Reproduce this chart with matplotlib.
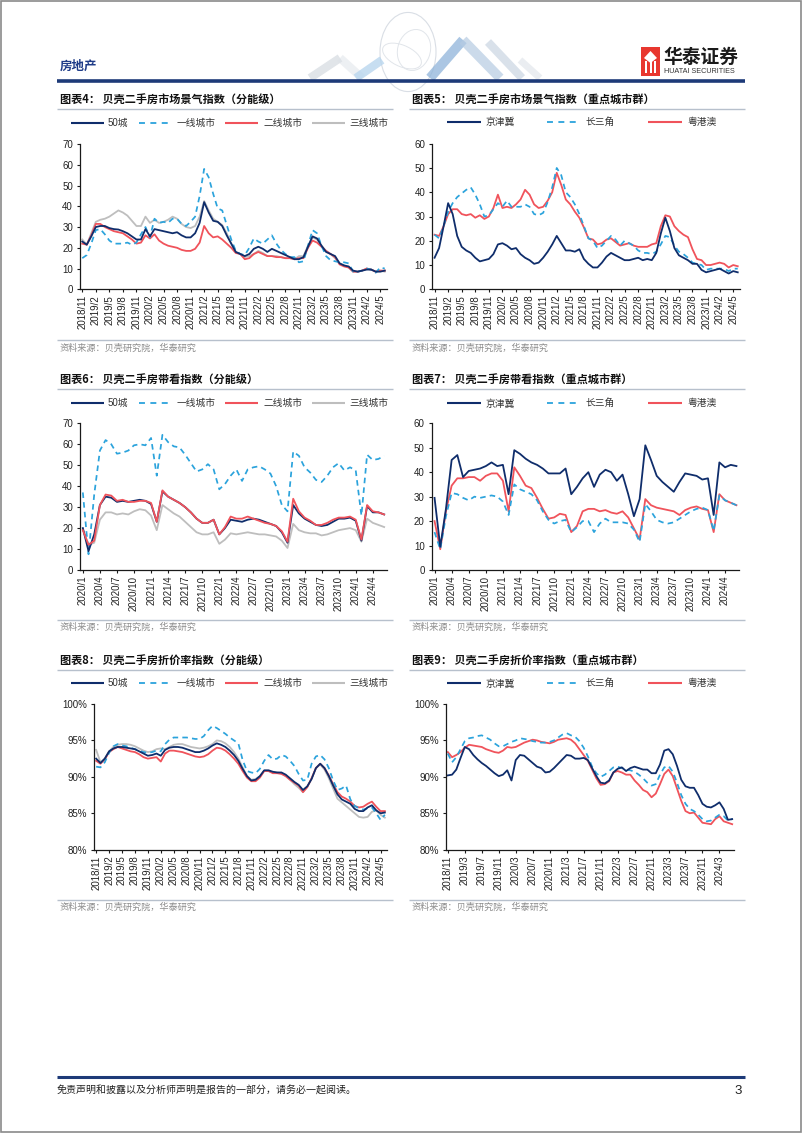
import matplotlib
matplotlib.use("Agg")
import matplotlib.pyplot as plt
from matplotlib.lines import Line2D
from matplotlib.patches import Rectangle, Polygon, Circle, Ellipse

# ---------------- data ----------------
def month_labels(y, m, n):
    out = []
    for _ in range(n):
        out.append(f"{y}/{m}")
        m += 1
        if m > 12:
            m = 1
            y += 1
    return out

months_a = month_labels(2018, 11, 68)   # 2018/11 - 2024/6
months_b = month_labels(2020, 1, 54)    # 2020/1 - 2024/6

tier_names = ["50城", "一线城市", "二线城市", "三线城市"]
region_names = ["京津冀", "长三角", "粤港澳"]

# 图表4 景气指数（分能级）
c4_50 = [23, 21.5, 25.5, 30, 30.5, 30.5, 29.5, 29, 28.8, 28, 27, 25.5, 24, 24, 29, 25.5, 29, 28.5,
         28, 27.5, 27, 27.5, 26, 25, 25, 27, 32, 42, 37, 33, 32.5, 30.5, 26, 22, 18, 17, 16, 17,
         19.5, 20.5, 19.5, 18, 19.5, 18.5, 17.5, 16.5, 15.5, 14.5, 14.5, 15.5, 20.5, 25.5, 24.5,
         21, 18, 17, 16, 12.5, 11.5, 11, 9, 8.5, 9, 9.5, 9.5, 8.5, 8.5, 9]
c4_1 = [15, 16.5, 22, 28.5, 29, 26.5, 23.5, 22, 22, 22, 22.5, 21.5, 22.5, 26.5, 30, 25, 34, 32,
        32.5, 32, 34, 34, 31.5, 30.5, 32.5, 35, 45, 58, 54, 46, 39, 38, 31, 24, 18.5, 17, 16.5,
        20, 24.5, 23, 22, 24, 26, 22, 19, 17, 15.5, 15.5, 13, 13.5, 21, 28.5, 27, 21, 16, 14,
        13.5, 13, 13, 12.5, 8.5, 8.5, 9, 10, 9.5, 8, 10.5, 10]
c4_2 = [22, 21.5, 26, 31.5, 31.5, 30, 29, 28, 27.5, 27, 25.5, 24, 22, 22.5, 26, 24.5, 26.5, 23.5,
        22, 21, 20.5, 20, 19, 18.5, 18.5, 19.5, 22.5, 30.5, 27, 25, 25.5, 24, 22, 20, 17.5, 17,
        14.5, 15, 17, 18, 17, 16, 16, 15.5, 15.5, 15, 15, 14.5, 15, 15, 20, 23.5, 22.5, 20.5,
        18.5, 17, 15.5, 12, 11, 10.5, 8.5, 8.5, 9, 10, 9.5, 8.5, 9, 9]
c4_3 = [24, 21.5, 27, 32.5, 33.5, 34, 35, 36.5, 38, 37, 35.5, 33, 30.5, 30.5, 35, 32, 33.5, 32,
        32.5, 33.5, 35, 34, 31.5, 30, 29.5, 30.5, 35, 42.5, 38, 34, 32.5, 31, 27, 22, 18, 17,
        15.5, 16, 17, 18.5, 17.5, 16, 16, 16, 15.5, 15, 15, 14.5, 16, 16, 21, 25, 24, 21, 18.5,
        17, 15, 12.5, 11.5, 10.5, 8.5, 8.5, 9, 10, 9.5, 8.5, 9, 8.5]

# 图表5 景气指数（重点城市群）
c5_jjj = [13, 17, 26, 35.5, 31, 22, 17.5, 16, 15, 13, 11.5, 12, 12.5, 14.5, 18.5, 19, 18, 16.5,
          17, 14.5, 13, 12, 10.5, 11, 13, 15.5, 18.5, 22, 19, 16, 16, 15.5, 16.5, 12.5, 10.5,
          9, 9, 11, 13.5, 15, 14, 13, 12, 12, 12.5, 13, 12, 12.5, 12, 15, 23, 29.5, 24, 17, 14,
          13, 12, 10.5, 10.5, 8, 7, 7.5, 8, 8.5, 7.5, 6.5, 7.5, 7]
c5_csj = [22.5, 21, 26, 32, 35.5, 38, 39.5, 41, 42, 39, 35, 30, 30.5, 33, 35.5, 34, 36.5, 34, 34,
          34, 35, 34, 31, 30.5, 31.5, 36, 42, 50, 47, 40, 38, 35, 31, 26, 21, 20, 17, 18, 20,
          22, 20.5, 18, 20, 19, 18, 16, 15, 15, 14.5, 15.5, 18.5, 22, 21.5, 18, 15.5, 14.5, 13,
          11, 10.5, 10, 8, 8.5, 8.5, 8.5, 8.5, 7.5, 8.5, 8.5]
c5_ygo = [22.5, 22, 26, 31, 33, 33, 31, 30.5, 31, 29.5, 30.5, 29, 30, 33.5, 39, 33.5, 34, 33.5,
          35, 37, 41, 39, 35, 33.5, 34, 36.5, 40, 48, 43, 37, 35, 32, 29.5, 25.5, 21, 20.5, 18.5,
          19, 20.5, 21, 19.5, 18, 18.5, 19, 18, 17.5, 17.5, 17.5, 18.5, 19, 26, 30.5, 30, 26, 24,
          22.5, 21.5, 16.5, 12.5, 12, 10, 10, 10.5, 11, 10.5, 9, 10, 9.5]

# 图表6 带看指数（分能级）
c6_50 = [20, 9, 17, 31, 35, 34.5, 32.5, 33, 32.5, 33, 33.5, 33, 31.5, 23, 37.5, 35, 33.5, 32, 30,
         27.5, 24.5, 22.5, 22.5, 24, 17, 20, 24, 23.5, 23, 24, 24.5, 24, 23, 22, 21, 18, 13, 31,
         27, 24.5, 23, 21.5, 21, 21.5, 23, 24.5, 24.5, 25, 23.5, 14, 30.5, 27.5, 27.5, 26.5]
c6_1 = [37, 7.5, 36, 57, 62, 60, 55.5, 56, 57, 59.5, 60, 59.5, 63, 45, 64.5, 61, 59, 58.5, 55, 51,
        47, 48, 50.5, 48, 38.5, 41, 45, 48, 42.5, 48, 49, 49.5, 48, 46, 40, 31, 28, 56.5, 54.5,
        49, 46.5, 43, 42, 45, 49, 51, 47.5, 49, 47.5, 26, 55, 52.5, 53, 54.5]
c6_2 = [19, 12, 14, 31, 36, 35.5, 33, 33.5, 32.5, 32.5, 33, 33, 32, 23, 38, 35, 33.5, 32, 30, 27.5,
        24.5, 22.5, 22.5, 24, 17, 20.5, 25.5, 24.5, 24.5, 25.5, 24.5, 23.5, 22.5, 22, 21, 18.5,
        13.5, 34, 28, 25, 23.5, 21.5, 21.5, 22.5, 24, 25, 25, 25.5, 24, 14.5, 31, 28, 27.5, 26.5]
c6_3 = [19.5, 12, 13, 24, 27.5, 27.5, 26.5, 27, 26.5, 28, 29, 28.5, 26, 19, 31, 29, 27, 25.5, 23,
        20.5, 18, 17, 17, 18, 12.5, 14.5, 17.5, 17, 17.5, 18, 17.5, 17, 17, 16.5, 16, 14, 10.5,
        22, 19, 18, 17.5, 17.5, 16.5, 17, 18, 19, 19.5, 20, 19, 13.5, 24.5, 22.5, 21.5, 20.5]

# 图表7 带看指数（重点城市群）
c7_jjj = [29.5, 9.5, 25, 45, 47, 38, 40.5, 41, 41.5, 42.5, 44, 42.5, 43, 31, 49, 47.5, 45.5, 44,
          43, 41.5, 39.5, 39.5, 39.5, 41.5, 31, 34, 37.5, 40, 34, 39, 41, 40, 36.5, 39, 31, 22,
          29, 51, 45, 38.5, 36, 34, 32, 36, 39.5, 39, 38.5, 37, 37.5, 22.5, 44, 42, 43, 42.5]
c7_csj = [15.5, 8.5, 22, 31.5, 31, 29.5, 28.5, 30, 29.5, 30, 30.5, 30, 28, 22.5, 35, 33, 32, 31,
          28.5, 24, 20.5, 19, 20, 20.5, 15.5, 17.5, 20, 20, 15.5, 19, 21, 19.5, 19.5, 19.5, 19,
          16.5, 11.5, 27, 24, 20.5, 19.5, 19, 19.5, 21, 22.5, 24, 25, 25.5, 24.5, 16, 30.5, 28.5,
          27.5, 26.5]
c7_ygo = [20, 8.5, 24, 34.5, 37.5, 37.5, 38, 38, 36.5, 38.5, 39.5, 39.5, 36.5, 24, 42, 38.5, 34.5,
          33.5, 29.5, 25, 21, 21.5, 23, 22.5, 15.5, 18, 24, 25, 25, 24, 24.5, 23.5, 23, 24, 21.5,
          17, 12.5, 29, 26.5, 25.5, 25, 24.5, 24, 22.5, 24.5, 25.5, 26, 25, 24.5, 15.5, 31, 28.5,
          27.5, 26.5]

# 图表8 折价率指数（分能级）, %
c8_50 = [92.5, 91.9, 92.5, 93.5, 93.9, 94.1, 94.1, 94.0, 93.9, 93.8, 93.5, 93.2, 92.9, 93.0, 93.2,
         92.9, 93.7, 94.0, 94.1, 94.1, 94.0, 93.8, 93.6, 93.4, 93.4, 93.6, 93.9, 94.3, 94.6, 94.4,
         94.1, 93.6, 93.0, 92.2, 91.1, 90.1, 89.5, 89.6, 90.1, 90.9, 90.9, 90.7, 90.6, 90.6, 90.3,
         89.8, 89.3, 88.9, 88.2, 88.7, 89.7, 91.2, 91.8, 91.2, 90.1, 88.8, 87.6, 86.9, 86.6, 86.3,
         85.6, 85.3, 85.3, 85.8, 86.1, 85.4, 85.0, 85.1]
c8_1 = [91.4, 91.3, 92.0, 93.3, 94.2, 94.5, 94.3, 94.2, 94.0, 93.8, 93.6, 93.4, 93.3, 93.4, 93.6,
        93.5, 94.5, 95.1, 95.4, 95.4, 95.4, 95.4, 95.3, 95.2, 95.2, 95.6, 96.4, 97.0, 96.7, 96.3,
        95.9, 95.4, 95.0, 94.6, 92.3, 90.8, 90.6, 90.5, 91.1, 92.2, 93.0, 92.4, 92.5, 93.0, 92.8,
        92.2, 91.5, 90.4, 89.5, 89.6, 91.8, 92.8, 93.0, 92.4, 91.2, 89.5, 88.2, 88.4, 88.8, 86.9,
        86.0, 85.7, 85.5, 85.7, 85.8, 85.0, 84.1, 84.8]
c8_2 = [92.2, 91.8, 92.4, 93.4, 93.8, 94.1, 93.9, 93.7, 93.5, 93.4, 93.1, 92.7, 92.5, 92.6, 92.7,
        92.1, 93.2, 93.6, 93.6, 93.5, 93.4, 93.2, 93.0, 92.8, 92.7, 92.8, 93.1, 93.6, 94.0, 93.9,
        93.6, 93.1, 92.5, 91.8, 90.8, 89.9, 89.4, 89.4, 89.9, 90.8, 90.8, 90.5, 90.5, 90.4, 90.1,
        89.6, 89.2, 88.8, 87.9, 88.6, 89.8, 91.2, 91.8, 91.2, 90.2, 89.0, 87.9, 87.3, 87.0, 86.6,
        86.0, 85.8, 85.9, 86.3, 86.6, 85.9, 85.3, 85.3]
c8_3 = [93.7, 92.0, 92.5, 93.5, 94.1, 94.4, 94.5, 94.5, 94.4, 94.2, 93.9, 93.6, 93.4, 93.5, 93.8,
        93.9, 93.8, 94.1, 94.4, 94.5, 94.5, 94.3, 94.1, 94.0, 93.9, 94.0, 94.2, 94.5, 95.0, 94.9,
        94.6, 94.1, 93.4, 92.5, 91.3, 90.1, 89.6, 89.7, 90.1, 90.8, 90.8, 90.6, 90.6, 90.5, 90.1,
        89.6, 89.0, 88.5, 87.9, 88.6, 89.8, 91.2, 91.7, 91.0, 89.8, 88.4, 87.0, 86.5, 86.0, 85.5,
        85.0, 84.5, 84.4, 84.5, 85.2, 85.4, 84.8, 84.4]

# 图表9 折价率指数（重点城市群）, %
c9_jjj = [90.2, 90.3, 91.0, 92.6, 94.1, 93.8, 93.0, 92.4, 91.9, 91.5, 91.0, 90.5, 90.1, 90.3, 90.9,
          89.5, 92.3, 93.0, 92.9, 92.4, 91.9, 91.4, 91.2, 90.6, 90.7, 91.2, 91.8, 92.4, 93.0, 92.9,
          92.5, 92.5, 92.6, 92.3, 91.2, 90.1, 89.2, 89.1, 89.5, 90.6, 91.1, 91.3, 90.8, 91.2, 91.4,
          91.2, 91.0, 91.0, 90.5, 90.5, 91.7, 93.6, 93.8, 93.1, 91.5, 89.6, 88.7, 88.5, 88.5, 87.5,
          86.3, 85.9, 85.8, 86.1, 86.5, 85.6, 84.1, 84.2]
c9_csj = [93.2, 92.0, 92.7, 93.8, 94.9, 95.3, 95.4, 95.6, 95.7, 95.4, 95.1, 94.6, 94.2, 94.2, 94.5,
          94.8, 95.0, 95.3, 95.2, 95.1, 94.9, 94.8, 94.7, 94.7, 94.8, 95.0, 95.4, 95.8, 96.0, 95.7,
          95.5, 94.9, 94.0, 92.8, 91.4, 90.5, 90.0, 90.3, 90.8, 91.3, 91.4, 91.2, 91.0, 90.9, 90.7,
          90.3, 89.8, 89.2, 88.8, 89.0, 90.3, 91.3, 91.5, 90.7, 89.2, 87.5, 86.3, 85.6, 85.3, 84.8,
          84.2, 83.9, 84.0, 84.4, 84.8, 84.6, 84.0, 84.2]
c9_ygo = [93.4, 92.7, 93.0, 93.4, 94.0, 94.4, 94.3, 94.2, 94.1, 93.8, 93.6, 93.4, 93.3, 93.6, 94.1,
          94.0, 94.1, 94.4, 94.7, 94.9, 95.1, 95.0, 94.8, 94.7, 94.6, 94.8, 95.1, 95.2, 95.3, 95.1,
          94.6, 93.8, 93.0, 92.2, 91.0, 89.8, 88.9, 89.0, 89.4, 90.6, 90.8, 90.6, 90.3, 90.3, 89.5,
          88.9, 88.2, 87.9, 87.2, 87.7, 89.0, 90.4, 91.0, 90.1, 88.4, 86.7, 85.3, 85.0, 85.1, 84.4,
          83.7, 83.6, 83.5, 84.2, 84.6, 83.9, 83.7, 83.5]

# ---------------- style ----------------
NAVY = "#0F2D6B"
CYAN = "#2BA3DC"
RED = "#F0535B"
GREY = "#BEBEBE"
LINEBLUE = "#1D3A78"
RULE = "#B7C0CC"
CJK = ["Noto Sans CJK SC", "DejaVu Sans"]
NUM = ["Liberation Sans", "Noto Sans CJK SC"]
DASH = (0, (3.2, 2.4))

W, H = 802, 1133
fig = plt.figure(figsize=(W / 100, H / 100), dpi=100)
fig.patch.set_facecolor("white")


def fx(x):
    return x / W


def fy(y):
    return 1 - y / H


def hline(x0, x1, y, color, lw, ls="-"):
    fig.add_artist(Line2D([fx(x0), fx(x1)], [fy(y), fy(y)], transform=fig.transFigure,
                          color=color, lw=lw, ls=ls, solid_capstyle="butt"))


def seg(x0, y0, x1, y1, color, lw, alpha):
    fig.add_artist(Line2D([fx(x0), fx(x1)], [fy(y0), fy(y1)], transform=fig.transFigure,
                          color=color, lw=lw, alpha=alpha, solid_capstyle="butt"))


def ftext(x, y, s, **kw):
    kw.setdefault("va", "center")
    fig.text(fx(x), fy(y), s, **kw)


def add_ax(x0, y0, x1, y1):
    return fig.add_axes([fx(x0), fy(y1), (x1 - x0) / W, (y1 - y0) / H])


# page frame
fig.add_artist(Rectangle((0.0008, 0.0006), 0.9985, 0.9988, transform=fig.transFigure,
                         fill=False, edgecolor="#8A8A8A", lw=1.2))

# header decoration (faint globe + chevrons)
fig.add_artist(Circle((fx(408), fy(52)), 28 / W, transform=fig.transFigure, fill=False,
                      edgecolor="#D9DEE5", lw=0.8))
fig.add_artist(Ellipse((fx(414), fy(50)), 34 / W, 40 / H, angle=20, transform=fig.transFigure,
                       fill=False, edgecolor="#E1E5EA", lw=0.7))
fig.add_artist(Ellipse((fx(402), fy(56)), 40 / W, 22 / H, angle=-15, transform=fig.transFigure,
                       fill=False, edgecolor="#E1E5EA", lw=0.7))
seg(310, 78, 340, 58, "#D5DAE0", 6, 0.7)
seg(340, 58, 362, 78, "#DDE2E8", 6, 0.5)
seg(356, 78, 382, 60, "#B9D6EE", 6, 0.8)
seg(430, 78, 463, 40, "#8FB4DA", 7, 0.75)
seg(463, 40, 500, 78, "#B5CBE2", 7, 0.7)
seg(488, 42, 522, 78, "#CAD5E2", 6, 0.7)
seg(520, 60, 540, 78, "#DDE2E8", 5, 0.6)

# header
ftext(60, 66, "房地产", fontsize=9, color="#1F3C88", family=CJK, fontweight="bold")
hline(57, 745, 80.5, LINEBLUE, 2.6)
# logo
fig.add_artist(Rectangle((fx(641), fy(76)), 19 / W, 29 / H, transform=fig.transFigure,
                         facecolor="#E8372F", edgecolor="none"))
for bx in (645, 649.5, 654):
    fig.add_artist(Rectangle((fx(bx), fy(73)), 2.2 / W, 12 / H, transform=fig.transFigure,
                             facecolor="white", edgecolor="none"))
fig.add_artist(Polygon([(fx(644), fy(58)), (fx(650.5), fy(51)), (fx(657), fy(58)),
                        (fx(650.5), fy(63))], transform=fig.transFigure,
                       facecolor="white", edgecolor="none"))
ftext(663, 57.5, "华泰证券", fontsize=13.5, family=CJK, fontweight="bold", color="#1A1A1A")
ftext(663.5, 71.5, "HUATAI SECURITIES", fontsize=5.2, family=NUM, color="#333333")

# footer
hline(57, 745, 1077, LINEBLUE, 2.2)
ftext(57, 1091, "免责声明和披露以及分析师声明是报告的一部分，请务必一起阅读。", fontsize=7.2,
      family=CJK, color="#222222", style="italic")
ftext(742, 1091, "3", fontsize=9.5, family=NUM, ha="right", color="#222222")


def panel_frame(xl, xr, title, ty, legend_items, ly, src_y):
    ftext(xl + 3, ty, title, fontsize=8, fontweight="bold", family=CJK, color="#111111")
    hline(xl, xr, ty + 8, RULE, 1.0)
    for (name, color, ls, x0, x1, xt) in legend_items:
        hline(x0, x1, ly, color, 1.5 if ls == "-" else 1.3, ls if ls == "-" else (0, (3.3, 3.0)))
        ftext(xt, ly, name, fontsize=7, family=NUM, color="#333333")
    hline(xl, xr, src_y - 8, RULE, 1.0)
    ftext(xl + 3, src_y, "资料来源：贝壳研究院，华泰研究", fontsize=6.6, family=CJK, color="#8C8C8C")


def style_ax(ax, ylim, yticks, ylabels, xticks, xlabels, ncat):
    for s in ("top", "right"):
        ax.spines[s].set_visible(False)
    for s in ("left", "bottom"):
        ax.spines[s].set_color("#1A1A1A")
        ax.spines[s].set_linewidth(0.9)
    ax.set_xlim(-0.5, ncat - 0.5)
    ax.set_ylim(*ylim)
    ax.set_yticks(yticks)
    ax.set_yticklabels(ylabels, fontsize=7, family=NUM, color="#222222")
    ax.set_xticks(xticks)
    ax.set_xticklabels(xlabels, rotation=90, fontsize=7, family=NUM, color="#222222")
    ax.tick_params(axis="y", length=2.5, width=0.8, pad=2.5, color="#1A1A1A")
    ax.tick_params(axis="x", length=2.5, width=0.8, pad=1.5, color="#1A1A1A")
    ax.set_facecolor("none")


def plot_series(ax, cats, series):
    x = list(range(len(cats)))
    for vals, color, ls in series:
        if ls == "--":
            ax.plot(x, vals, color=color, lw=1.25, ls=DASH)
        else:
            ax.plot(x, vals, color=color, lw=1.3, solid_joinstyle="round")


tier_styles = [(NAVY, "-"), (CYAN, "--"), (RED, "-"), (GREY, "-")]
reg_styles = [(NAVY, "-"), (CYAN, "--"), (RED, "-")]


def tier_legend():
    pos = [(71, 104, 108), (139, 173, 177), (225, 258, 263), (312, 345, 349)]
    return [(n, c, l, a, b, t) for n, (c, l), (a, b, t) in zip(tier_names, tier_styles, pos)]


def reg_legend():
    pos = [(447, 481, 485), (547, 580, 585), (648, 682, 687)]
    return [(n, c, l, a, b, t) for n, (c, l), (a, b, t) in zip(region_names, reg_styles, pos)]


idx_a3 = list(range(0, len(months_a), 3))
idx_b3 = list(range(0, len(months_b), 3))
idx_a4 = list(range(0, len(months_a), 4))

# ---- 图表4 ----
panel_frame(57, 393, "图表4： 贝壳二手房市场景气指数（分能级）", 100.5, tier_legend(), 122.7, 348)
ax = add_ax(80, 144, 387, 289.3)
plot_series(ax, months_a, [(c4_3, GREY, "-"), (c4_2, RED, "-"), (c4_1, CYAN, "--"), (c4_50, NAVY, "-")])
style_ax(ax, (0, 70), range(0, 71, 10), [str(v) for v in range(0, 71, 10)],
         idx_a3, [months_a[i] for i in idx_a3], len(months_a))

# ---- 图表5 ----
panel_frame(409, 745, "图表5： 贝壳二手房市场景气指数（重点城市群）", 100.5, reg_legend(), 121.7, 348)
ax = add_ax(432.3, 143.7, 740, 289.3)
plot_series(ax, months_a, [(c5_ygo, RED, "-"), (c5_csj, CYAN, "--"), (c5_jjj, NAVY, "-")])
style_ax(ax, (0, 60), range(0, 61, 10), [str(v) for v in range(0, 61, 10)],
         idx_a3, [months_a[i] for i in idx_a3], len(months_a))

# ---- 图表6 ----
panel_frame(57, 393, "图表6： 贝壳二手房带看指数（分能级）", 380.5, tier_legend(), 403.3, 627.5)
ax = add_ax(80, 423.3, 387, 570)
plot_series(ax, months_b, [(c6_3, GREY, "-"), (c6_1, CYAN, "--"), (c6_50, NAVY, "-"), (c6_2, RED, "-")])
style_ax(ax, (0, 70), range(0, 71, 10), [str(v) for v in range(0, 71, 10)],
         idx_b3, [months_b[i] for i in idx_b3], len(months_b))

# ---- 图表7 ----
panel_frame(409, 745, "图表7： 贝壳二手房带看指数（重点城市群）", 380.5, reg_legend(), 403.3, 627.5)
ax = add_ax(431.7, 423.3, 739.3, 570)
plot_series(ax, months_b, [(c7_ygo, RED, "-"), (c7_csj, CYAN, "--"), (c7_jjj, NAVY, "-")])
style_ax(ax, (0, 60), range(0, 61, 10), [str(v) for v in range(0, 61, 10)],
         idx_b3, [months_b[i] for i in idx_b3], len(months_b))

# ---- 图表8 ----
panel_frame(57, 393, "图表8： 贝壳二手房折价率指数（分能级）", 661.5, tier_legend(), 683.3, 907.5)
ax = add_ax(94, 704, 387, 849.7)
plot_series(ax, months_a, [(c8_3, GREY, "-"), (c8_2, RED, "-"), (c8_1, CYAN, "--"), (c8_50, NAVY, "-")])
style_ax(ax, (80, 100), range(80, 101, 5), [f"{v}%" for v in range(80, 101, 5)],
         idx_a3, [months_a[i] for i in idx_a3], len(months_a))

# ---- 图表9 ----
panel_frame(409, 745, "图表9： 贝壳二手房折价率指数（重点城市群）", 661.5, reg_legend(), 683.3, 907.5)
ax = add_ax(445.7, 704, 734.3, 849.7)
plot_series(ax, months_a, [(c9_ygo, RED, "-"), (c9_csj, CYAN, "--"), (c9_jjj, NAVY, "-")])
style_ax(ax, (80, 100), range(80, 101, 5), [f"{v}%" for v in range(80, 101, 5)],
         idx_a4, [months_a[i] for i in idx_a4], len(months_a))

fig.savefig("out.png", dpi=100, facecolor="white")
